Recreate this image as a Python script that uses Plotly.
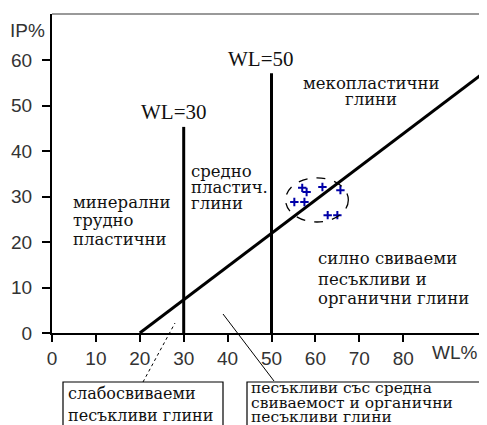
import plotly.graph_objects as go

# ---- data ----
wl_points = [57.0, 58.0, 61.6, 65.7, 55.2, 57.5, 62.8, 65.0]
ip_points = [31.9, 31.0, 32.1, 31.4, 28.8, 28.8, 25.9, 25.9]
a_line_wl = [20, 101]
a_line_slope = 0.73
wl_limits = [30, 50]
wl_limit_tops = [45.3, 57.1]
wl_limit_labels = ["WL=30", "WL=50"]
x_ticks = [0, 10, 20, 30, 40, 50, 60, 70, 80]
y_ticks = [0, 10, 20, 30, 40, 50, 60]
cluster_box = [53.2, 67.5, 24.4, 34.1]

# ---- geometry (screen pixels; page body has an 8px margin) ----
OFF = 8
W, H = 487, 425
L, R, T, B = 52, 495, 14, 333          # plot area on screen (runs past right edge)
def xp(px):
    return (px - L) / (R - L)
def yp(py):
    return (B - py) / (B - T)

BODY = dict(family="DejaVu Serif", size=16.5, color="#111")
BOX = dict(family="DejaVu Serif", size=16, color="#111")
BOX2 = dict(family="DejaVu Serif", size=15.5, color="#111")
TICK = dict(family="Liberation Sans", size=19, color="#333")

fig = go.Figure()

# A-line
a_y = [a_line_slope * (x - 20) for x in a_line_wl]
fig.add_trace(go.Scatter(x=a_line_wl, y=a_y, mode="lines",
                         line=dict(color="black", width=3), hoverinfo="skip"))
# WL limits
for wl, top in zip(wl_limits, wl_limit_tops):
    fig.add_trace(go.Scatter(x=[wl, wl], y=[0, top], mode="lines",
                             line=dict(color="black", width=3), hoverinfo="skip"))
# points
fig.add_trace(go.Scatter(x=wl_points, y=ip_points, mode="markers",
                         marker=dict(symbol="cross-thin", size=6,
                                     line=dict(color="#0000a8", width=2))))

shapes = []
shapes.append(dict(type="circle", xref="x", yref="y",
                   x0=cluster_box[0], x1=cluster_box[1],
                   y0=cluster_box[2], y1=cluster_box[3],
                   line=dict(color="black", width=1.3, dash="dash")))
# top border
shapes.append(dict(type="line", xref="paper", yref="paper", x0=0, x1=1, y0=1, y1=1,
                   line=dict(color="#999", width=2)))
# bottom boxes
shapes.append(dict(type="rect", xref="paper", yref="paper",
                   x0=xp(63), x1=xp(223), y0=yp(382), y1=yp(440),
                   line=dict(color="black", width=1.2)))
shapes.append(dict(type="rect", xref="paper", yref="paper",
                   x0=xp(247), x1=xp(486), y0=yp(382), y1=yp(440),
                   line=dict(color="black", width=1.2)))
# leader lines
shapes.append(dict(type="line", xref="paper", yref="paper",
                   x0=xp(143), y0=yp(382), x1=xp(175), y1=yp(323),
                   line=dict(color="black", width=1, dash="dot")))
shapes.append(dict(type="line", xref="paper", yref="paper",
                   x0=xp(223), y0=yp(314), x1=xp(274), y1=yp(381),
                   line=dict(color="black", width=1)))

ann = []
def txt(text, px, py, anchor="left", font=BODY):
    ann.append(dict(text=text, xref="paper", yref="paper", x=xp(px), y=yp(py),
                    xanchor=anchor, yanchor="middle", showarrow=False, font=font))

for lab, wl, top in zip(wl_limit_labels, wl_limits, wl_limit_tops):
    ann.append(dict(text=lab, xref="x", yref="y", x=wl - 2.3, y=top + 3.2,
                    xanchor="center", yanchor="middle", showarrow=False,
                    font=dict(family="Liberation Serif", size=21, color="#111")))

txt("IP%", 27, 31, "center", TICK)
txt("WL%", 455, 352, "center", TICK)

for s, y in zip(["минерални", "трудно", "пластични"], [202, 221, 239]):
    txt(s, 71, y)
for s, y in zip(["средно", "пластич.", "глини"], [171, 187, 203]):
    txt(s, 189, y)
for s, y in zip(["мекопластични", "глини"], [83, 100]):
    txt(s, 371, y, "center")
for s, y in zip(["силно свиваеми", "песъкливи и", "органични глини"], [258, 279, 298]):
    txt(s, 316, y)
for s, y in zip(["слабосвиваеми", "песъкливи глини"], [393, 415]):
    txt(s, 66, y, font=BOX)
for s, y in zip(["песъкливи със средна", "свиваемост и органични", "песъкливи глини"], [388, 402.5, 417]):
    txt(s, 249, y, font=BOX2)

fig.update_layout(
    width=W, height=H,
    margin=dict(l=L - OFF, r=W - (R - OFF), t=T - OFF, b=H - (B - OFF), autoexpand=False),
    plot_bgcolor="white", paper_bgcolor="white",
    showlegend=False,
    shapes=shapes, annotations=ann,
    xaxis=dict(range=[0, (R - L) / 4.39], tickvals=x_ticks, ticks="outside",
               ticklen=7, tickwidth=1.5, tickcolor="black", showline=True,
               linecolor="black", linewidth=2, showgrid=False, zeroline=False,
               tickfont=TICK, fixedrange=True, automargin=False),
    yaxis=dict(range=[0, (B - T) / 4.55], tickvals=y_ticks, ticks="outside",
               ticklen=8, tickwidth=1.5, tickcolor="black", showline=True,
               linecolor="black", linewidth=2, showgrid=False, zeroline=False,
               tickfont=TICK, fixedrange=True, ticklabelstandoff=6, automargin=False),
)

fig.write_html("out.html")
